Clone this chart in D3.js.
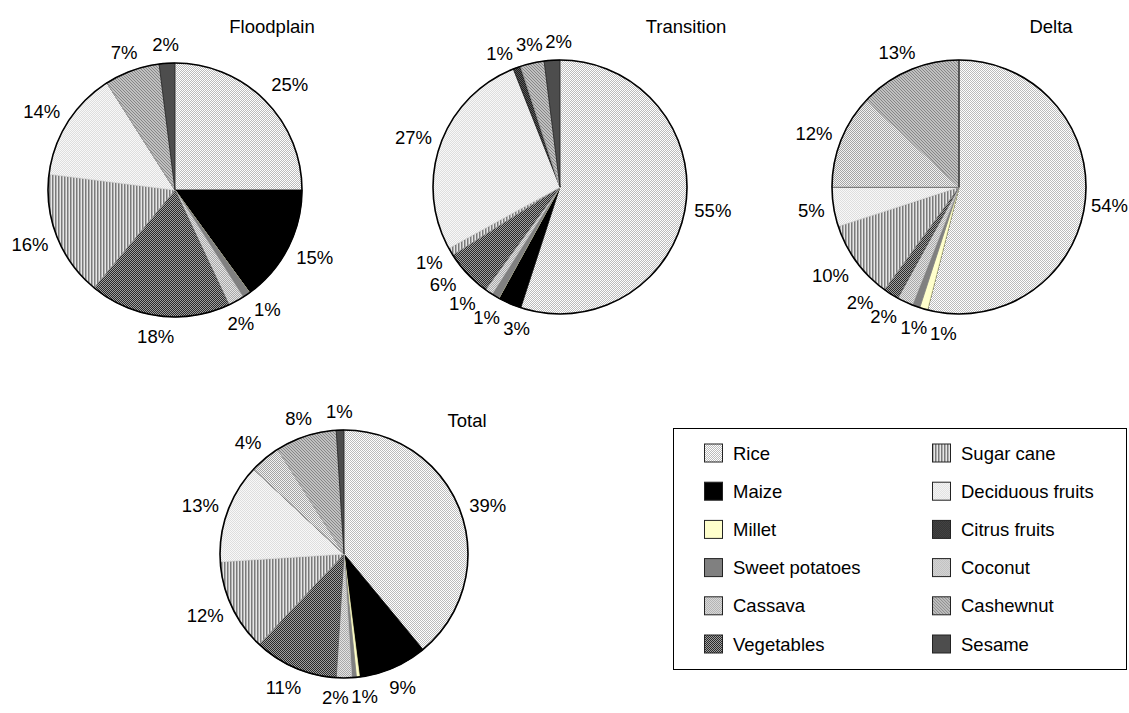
<!DOCTYPE html>
<html lang="en">
<head>
<meta charset="utf-8">
<script src="https://d3js.org/d3.v7.min.js"></script>
<style>
body { margin: 0; background: #fff; }
text { font-family: "Liberation Sans", Arial, sans-serif; fill: #000; }
</style>
</head>
<body>
<div id="chart"></div>
<script>
// crops, in the order the slices run clockwise from 12 o'clock
var categories = ["Rice", "Maize", "Millet", "Sweet potatoes", "Cassava", "Vegetables",
                  "Sugar cane", "Deciduous fruits", "Citrus fruits", "Coconut", "Cashewnut", "Sesame"];

// shares in % per zone
var floodplain = [25, 15, 0, 1, 2, 18, 16, 14, 0, 0, 7, 2];
var transition = [55, 3, 0, 1, 1, 6, 1, 27, 1, 0, 3, 2];
var delta      = [54, 0, 1, 1, 2, 2, 10, 5, 0, 12, 13, 0];
var total      = [39, 9, 0.4, 0.6, 2, 11, 12, 13, 0, 4, 8, 1];

var zoneNames = ["Floodplain", "Transition", "Delta", "Total"];

var W = 1129, H = 713;
var fontSize = "18.5px";

var svg = d3.select("#chart").append("svg")
    .attr("width", W)
    .attr("height", H);

// fill patterns, roughly like the old excel greyscale fills
var defs = svg.append("defs");
function checker(id, size, a, b) {
    var p = defs.append("pattern").attr("id", id)
        .attr("patternUnits", "userSpaceOnUse")
        .attr("width", size * 2).attr("height", size * 2);
    p.append("rect").attr("width", size * 2).attr("height", size * 2).attr("fill", a);
    p.append("rect").attr("width", size).attr("height", size).attr("fill", b);
    p.append("rect").attr("x", size).attr("y", size).attr("width", size).attr("height", size).attr("fill", b);
}
function solid(id, c) {
    defs.append("pattern").attr("id", id)
        .attr("patternUnits", "userSpaceOnUse").attr("width", 4).attr("height", 4)
        .append("rect").attr("width", 4).attr("height", 4).attr("fill", c);
}
checker("p0", 1, "#ffffff", "#bcbcbc");     // rice
solid("p1", "#000000");                     // maize
solid("p2", "#ffffcc");                     // millet
solid("p3", "#808080");                     // sweet potatoes
checker("p4", 1, "#e4e4e4", "#a8a8a8");     // cassava
checker("p5", 1, "#a0a0a0", "#2a2a2a");     // vegetables
// sugar cane: vertical stripes
var sc = defs.append("pattern").attr("id", "p6")
    .attr("patternUnits", "userSpaceOnUse").attr("width", 3).attr("height", 3);
sc.append("rect").attr("width", 3).attr("height", 3).attr("fill", "#e6e6e6");
sc.append("rect").attr("width", 1).attr("height", 3).attr("fill", "#7a7a7a");
sc.append("rect").attr("x", 1).attr("width", 1).attr("height", 3).attr("fill", "#b0b0b0");
checker("p7", 1, "#f8f8f8", "#dedede");     // deciduous fruits
checker("p8", 1, "#5a5a5a", "#1e1e1e");     // citrus
checker("p9", 1, "#f2f2f2", "#a4a4a4");     // coconut
// cashewnut: diagonal
var cw = defs.append("pattern").attr("id", "p10")
    .attr("patternUnits", "userSpaceOnUse").attr("width", 3).attr("height", 3);
cw.append("rect").attr("width", 3).attr("height", 3).attr("fill", "#c0c0c0");
cw.append("rect").attr("x", 0).attr("y", 0).attr("width", 1).attr("height", 1).attr("fill", "#868686");
cw.append("rect").attr("x", 1).attr("y", 1).attr("width", 1).attr("height", 1).attr("fill", "#868686");
cw.append("rect").attr("x", 2).attr("y", 2).attr("width", 1).attr("height", 1).attr("fill", "#868686");
solid("p11", "#4d4d4d");                    // sesame

// plain colour used for the slice edge (shows zero slices as a line)
var edgeColors = ["#c8c8c8", "#000", "#f0f0b0", "#808080", "#c0c0c0", "#555",
                  "#999", "#e0e0e0", "#111", "#aaa", "#999", "#222"];

var color = d3.scaleOrdinal().domain(categories)
    .range(categories.map(function(d, i) { return "url(#p" + i + ")"; }));
var edge = d3.scaleOrdinal().domain(categories).range(edgeColors);

// where each pie sits
var layout = [
    { cx: 175, cy: 190, r: 127, tx: 272, ty: 33 },
    { cx: 560, cy: 187, r: 127, tx: 686, ty: 33 },
    { cx: 959, cy: 187, r: 127, tx: 1051, ty: 33 },
    { cx: 344, cy: 554, r: 124, tx: 467, ty: 427 }
];
var zoneData = [floodplain, transition, delta, total];

var pie = d3.pie().sort(null).value(function(d) { return d.value; });

zoneData.forEach(function(values, zi) {
    var L = layout[zi];
    var data = categories.map(function(c, i) { return { name: c, value: values[i] }; });
    var arcs = pie(data);
    var arc = d3.arc().innerRadius(0).outerRadius(L.r);

    var g = svg.append("g").attr("transform", "translate(" + L.cx + "," + L.cy + ")");

    g.selectAll("path.slice")
        .data(arcs)
        .enter().append("path")
        .attr("class", "slice")
        .attr("d", arc)
        .attr("fill", function(d) { return color(d.data.name); })
        .attr("stroke", function(d) { return edge(d.data.name); })
        .attr("stroke-width", 0.8);

    g.append("circle").attr("r", L.r)
        .attr("fill", "none").attr("stroke", "#000").attr("stroke-width", 1.6);

    var ra = L.r + 9;

    // labels: outside the rim, spread apart when they crowd together
    var labs = arcs.filter(function(d) { return Math.round(d.data.value) > 0; })
        .map(function(d) {
            var t = g.append("text")
                .attr("text-anchor", "middle")
                .attr("dy", "0.36em")
                .style("font-size", fontSize)
                .text(Math.round(d.data.value) + "%");
            return { node: t, w: t.node().getComputedTextLength(),
                     a: (d.startAngle + d.endAngle) / 2 * 180 / Math.PI };
        });

    function need(a, w) {
        var th = a * Math.PI / 180;
        var s = Math.abs(Math.sin(th)), c = Math.abs(Math.cos(th));
        var rad = Math.min(w / (ra * Math.max(c, 0.01)), 14 / (ra * Math.max(s, 0.01)));
        return Math.max(10, rad * 180 / Math.PI);
    }
    for (var it = 0; it < 300; it++) {
        for (var i = 1; i < labs.length; i++) {
            var gap = labs[i].a - labs[i - 1].a;
            var sep = need((labs[i].a + labs[i - 1].a) / 2, Math.max(labs[i].w, labs[i - 1].w));
            if (gap < sep) {
                var push = (sep - gap) / 2;
                labs[i].a += push;
                labs[i - 1].a -= push;
            }
        }
    }
    labs.forEach(function(l) {
        var th = l.a * Math.PI / 180;
        var s = Math.sin(th), c = -Math.cos(th);
        var m = Math.max(Math.abs(s), Math.abs(c));
        var x = ra * s + (s / m) * l.w / 2;
        // keep it inside the page
        x = Math.min(x, W - 1 - l.w / 2 - L.cx);
        l.node.attr("x", x)
            .attr("y", ra * c + (c / m) * (c > 0 ? 11 : 9.5));
    });

    svg.append("text")
        .attr("x", L.tx).attr("y", L.ty)
        .attr("text-anchor", "middle")
        .style("font-size", fontSize)
        .text(zoneNames[zi]);
});

// legend box
var lg = svg.append("g");
lg.append("rect")
    .attr("x", 673.5).attr("y", 428.5)
    .attr("width", 453).attr("height", 241)
    .attr("fill", "#fff").attr("stroke", "#000").attr("stroke-width", 1);

var rowY = d3.scalePoint().domain(d3.range(6)).range([453, 644]);
var colX = d3.scalePoint().domain([0, 1]).range([704, 932]);

lg.selectAll("g.item")
    .data(categories)
    .enter().append("g")
    .attr("class", "item")
    .attr("transform", function(d, i) {
        return "translate(" + colX(Math.floor(i / 6)) + "," + rowY(i % 6) + ")";
    })
    .each(function(d) {
        var it = d3.select(this);
        it.append("rect")
            .attr("x", 0.5).attr("y", -9)
            .attr("width", 18).attr("height", 18)
            .attr("fill", color(d))
            .attr("stroke", "#222").attr("stroke-width", 1);
        it.append("text")
            .attr("x", 29).attr("y", 0)
            .attr("dy", "0.36em")
            .style("font-size", fontSize)
            .text(d);
    });
</script>
</body>
</html>
